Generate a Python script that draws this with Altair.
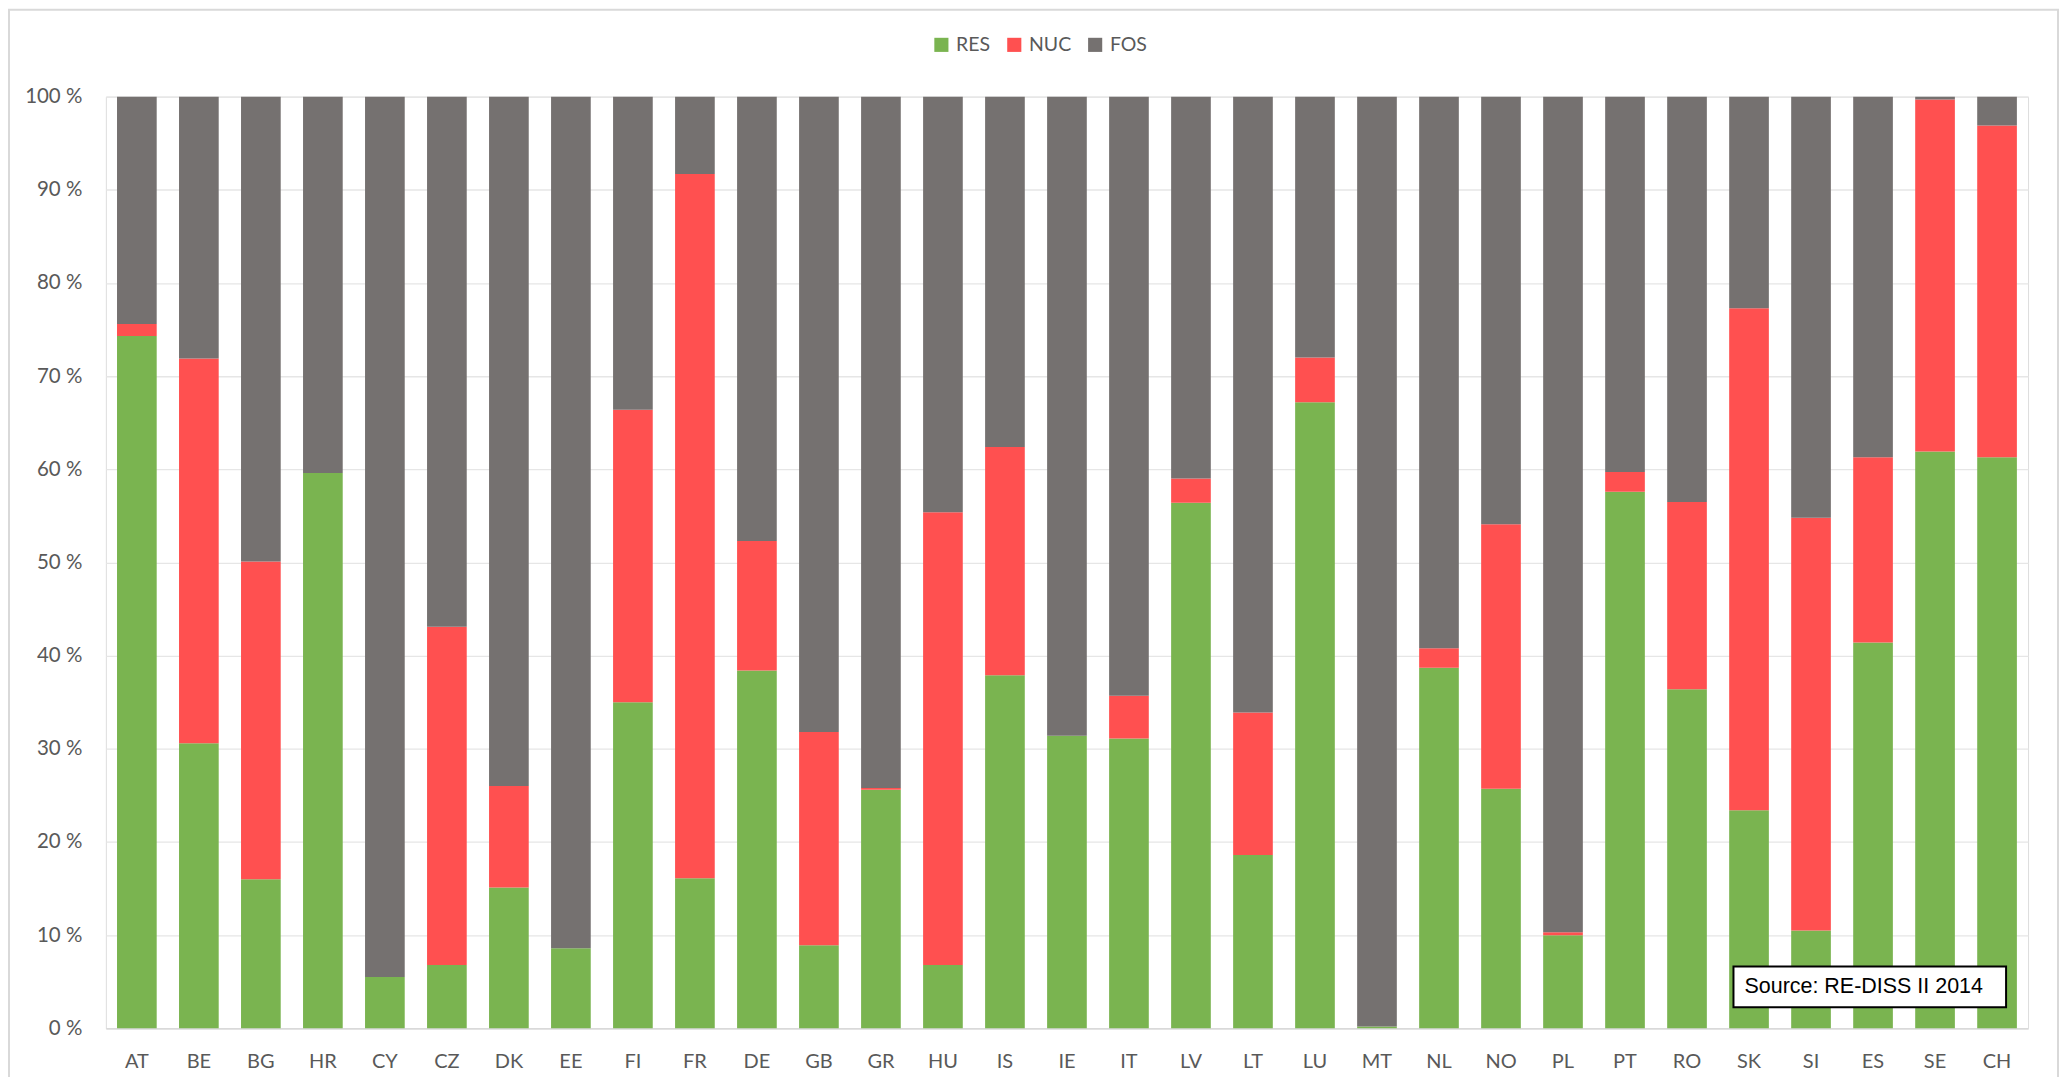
import altair as alt
import pandas as pd

countries = ["AT", "BE", "BG", "HR", "CY", "CZ", "DK", "EE", "FI", "FR", "DE", "GB", "GR", "HU", "IS",
             "IE", "IT", "LV", "LT", "LU", "MT", "NL", "NO", "PL", "PT", "RO", "SK", "SI", "ES", "SE", "CH"]
res = [74.3, 30.6, 16.0, 59.6, 5.5, 6.8, 15.1, 8.6, 35.0, 16.1, 38.4, 8.9, 25.6, 6.8, 37.9,
       31.4, 31.1, 56.4, 18.6, 67.2, 0.2, 38.7, 25.7, 10.0, 57.6, 36.4, 23.4, 10.5, 41.4, 61.9, 61.3]
nuc = [1.3, 41.3, 34.1, 0.0, 0.0, 36.3, 10.9, 0.0, 31.4, 75.6, 13.9, 22.9, 0.2, 48.6, 24.5,
       0.0, 4.6, 2.6, 15.3, 4.8, 0.0, 2.1, 28.4, 0.3, 2.1, 20.1, 53.9, 44.3, 19.9, 37.8, 35.6]
fos = [24.4, 28.1, 49.9, 40.4, 94.5, 56.9, 74.0, 91.4, 33.6, 8.3, 47.7, 68.2, 74.2, 44.6, 37.6,
       68.6, 64.3, 41.0, 66.1, 28.0, 99.8, 59.2, 45.9, 89.7, 40.3, 43.5, 22.7, 45.2, 38.7, 0.3, 3.1]
series = ["RES", "NUC", "FOS"]
colors = ["#7AB450", "#FF5050", "#757170"]
y_ticks = [0, 10, 20, 30, 40, 50, 60, 70, 80, 90, 100]
source_text = "Source: RE-DISS II 2014"

rows = []
for i, c in enumerate(countries):
    for k, (s, vals) in enumerate(zip(series, [res, nuc, fos])):
        rows.append({"country": c, "series": s, "value": vals[i], "order": k})
df = pd.DataFrame(rows)

W, H = 1925, 933
FONT = "Lato"

bars = alt.Chart(df).mark_bar().encode(
    x=alt.X("country:N", sort=countries, title=None,
            scale=alt.Scale(paddingInner=0.36, paddingOuter=0.18),
            axis=alt.Axis(labelAngle=0, ticks=False, domain=True, domainColor="#D9D9D9",
                          domainWidth=1.5, labelFontSize=20, labelColor="#595959",
                          labelFont=FONT, labelPadding=23)),
    y=alt.Y("value:Q", stack="zero", title=None,
            scale=alt.Scale(domain=[0, 100], nice=False),
            axis=alt.Axis(values=y_ticks, labelExpr="datum.value + ' %'", ticks=False,
                          domain=False, grid=True, gridColor="#E6E6E6", gridWidth=1.3,
                          labelFontSize=20.5, labelColor="#595959", labelFont=FONT,
                          labelPadding=24)),
    color=alt.Color("series:N", sort=series,
                    scale=alt.Scale(domain=series, range=colors),
                    legend=alt.Legend(title=None, orient="none", direction="horizontal",
                                      legendX=827, legendY=-62, symbolType="square",
                                      symbolSize=200, symbolStrokeWidth=0,
                                      labelFontSize=19.5, labelColor="#595959", labelFont=FONT,
                                      columnPadding=14, labelOffset=5)),
    order=alt.Order("order:Q"),
)

src_df = pd.DataFrame({"text": [source_text]})
box = alt.Chart(src_df).mark_rect(fill="white", stroke="black", strokeWidth=2).encode(
    x=alt.value(1630), x2=alt.value(1903), y=alt.value(871), y2=alt.value(912))
txt = alt.Chart(src_df).mark_text(align="left", baseline="middle", font="Liberation Sans",
                                  fontSize=21.5, color="black").encode(
    x=alt.value(1641), y=alt.value(892), text="text:N")

border = alt.Chart(src_df).mark_rect(fillOpacity=0, stroke="#D9D9D9", strokeWidth=2).encode(
    x=alt.value(-97), x2=alt.value(1955), y=alt.value(-87), y2=alt.value(1100))

chart = alt.layer(border, bars, box, txt).properties(
    width=W, height=H,
    autosize=alt.AutoSizeParams(type="none"),
    padding={"left": 98, "top": 88, "right": 31, "bottom": 48},
).configure_view(stroke=None).configure(background="white")

chart.save("out.html", embed_options={"renderer": "svg", "actions": False})
